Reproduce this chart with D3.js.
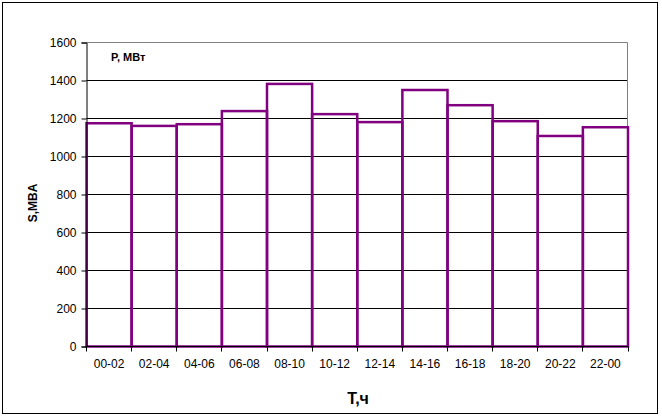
<!DOCTYPE html>
<html>
<head>
<meta charset="utf-8">
<script src="https://cdn.jsdelivr.net/npm/d3@7"></script>
<style>
  body { margin: 0; background: #fff; }
  text { font-family: Arial, "Liberation Sans", sans-serif; }
</style>
</head>
<body>
<div id="chart"></div>
<script>
// intervals of the day and load in each one
var periods = ['00-02', '02-04', '04-06', '06-08', '08-10', '10-12',
               '12-14', '14-16', '16-18', '18-20', '20-22', '22-00'];
var loads = [1175, 1161, 1170, 1239, 1382, 1223, 1181, 1350, 1270, 1186, 1108, 1154];
var yTicks = [0, 200, 400, 600, 800, 1000, 1200, 1400, 1600];

function drawChart() {
  var width = 662, height = 418;
  // plot area edges ("top" is a reserved window prop, so keep names local)
  var pLeft = 86.5, pRight = 628, pTop = 42.5, pBottom = 346.5;

  var svg = d3.select('#chart')
    .append('svg')
    .attr('width', width)
    .attr('height', height);

  // outer chart frame
  svg.append('rect')
    .attr('x', 2.5).attr('y', 2.5)
    .attr('width', 655).attr('height', 411)
    .attr('fill', 'none')
    .attr('stroke', '#000')
    .attr('stroke-width', 1);

  var x = d3.scaleBand().domain(periods).range([pLeft, pRight]).padding(0);
  var y = d3.scaleLinear().domain([0, 1600]).range([pBottom, pTop]);

  function snap(v) { return Math.round(v - 0.5) + 0.5; }

  // gridlines
  svg.append('g')
    .selectAll('line')
    .data(yTicks.filter(function(d) { return d > 0 && d < 1600; }))
    .enter()
    .append('line')
    .attr('x1', pLeft).attr('x2', pRight)
    .attr('y1', function(d) { return snap(y(d)); })
    .attr('y2', function(d) { return snap(y(d)); })
    .attr('stroke', '#000')
    .attr('stroke-width', 1);

  // gray top / right border of plot area
  svg.append('path')
    .attr('d', 'M' + pLeft + ',' + pTop + 'H' + (pRight - 0.5) + 'V' + pBottom)
    .attr('fill', 'none')
    .attr('stroke', '#808080')
    .attr('stroke-width', 1);

  // bars, outline only
  svg.append('g')
    .selectAll('rect')
    .data(loads)
    .enter()
    .append('rect')
    .attr('x', function(d, i) { return x(periods[i]); })
    .attr('y', function(d) { return y(d); })
    .attr('width', x.bandwidth())
    .attr('height', function(d) { return pBottom - y(d); })
    .attr('fill', 'none')
    .attr('stroke', '#800080')
    .attr('stroke-width', 2.5);

  // y axis
  var yAxis = d3.axisLeft(y).tickValues(yTicks).tickSize(5).tickPadding(5)
    .tickFormat(d3.format('d'));
  var gy = svg.append('g')
    .attr('transform', 'translate(' + pLeft + ',0)')
    .call(yAxis);
  gy.select('.domain').attr('stroke', '#000');
  gy.selectAll('.tick line').attr('stroke', '#000');
  gy.selectAll('.tick text')
    .attr('font-size', 12)
    .attr('font-family', 'Arial, "Liberation Sans", sans-serif')
    .attr('fill', '#000');

  // x axis: ticks at band boundaries
  var gx = svg.append('g')
    .attr('transform', 'translate(0,' + pBottom + ')');
  gx.append('line')
    .attr('x1', pLeft).attr('x2', pRight)
    .attr('stroke', '#000');
  var edges = periods.map(function(p) { return x(p); }).concat([pRight]);
  gx.selectAll('.edge')
    .data(edges)
    .enter()
    .append('line')
    .attr('class', 'edge')
    .attr('x1', function(d) { return snap(d); })
    .attr('x2', function(d) { return snap(d); })
    .attr('y1', 0).attr('y2', 5)
    .attr('stroke', '#000');
  gx.selectAll('.lbl')
    .data(periods)
    .enter()
    .append('text')
    .attr('class', 'lbl')
    .attr('x', function(d) { return x(d) + x.bandwidth() / 2; })
    .attr('y', 21)
    .attr('text-anchor', 'middle')
    .attr('font-size', 12)
    .attr('fill', '#000')
    .text(function(d) { return d; });

  // titles
  svg.append('text')
    .attr('x', 111).attr('y', 61)
    .attr('font-size', 11)
    .attr('font-weight', 'bold')
    .text('P, МВт');

  svg.append('text')
    .attr('transform', 'translate(37,203) rotate(-90)')
    .attr('text-anchor', 'middle')
    .attr('font-size', 12)
    .attr('font-weight', 'bold')
    .text('S,MBA');

  svg.append('text')
    .attr('x', 358).attr('y', 404)
    .attr('text-anchor', 'middle')
    .attr('font-size', 16)
    .attr('font-weight', 'bold')
    .text('T,ч');
}

drawChart();
</script>
</body>
</html>
